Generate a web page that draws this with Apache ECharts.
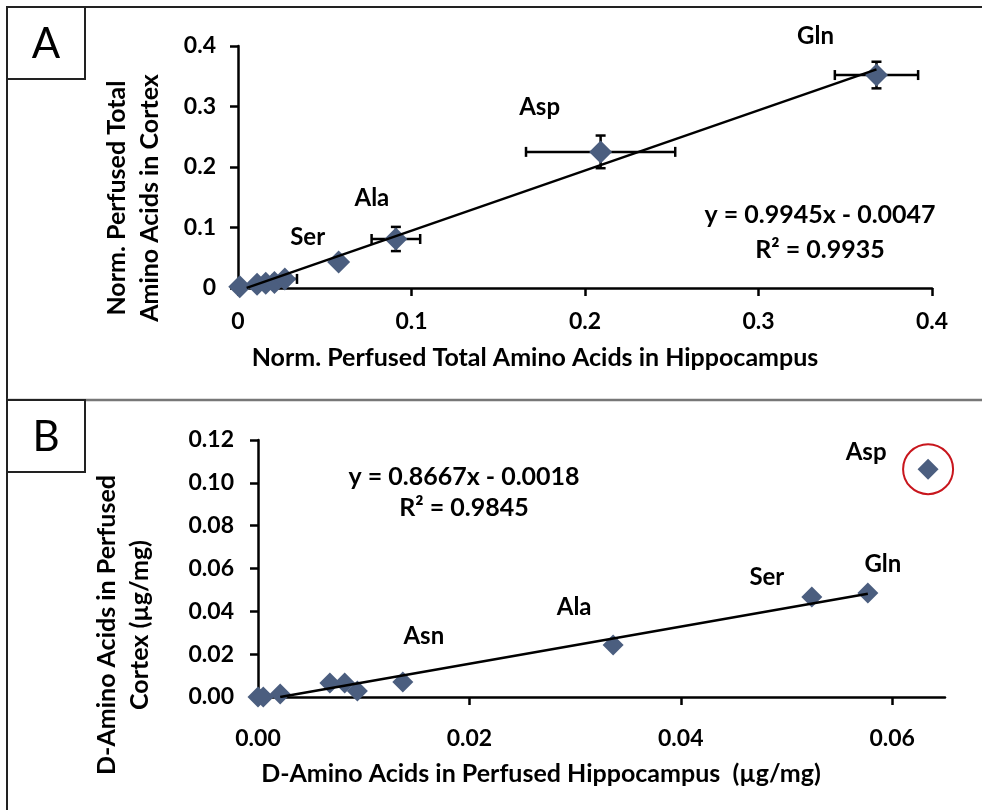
<!DOCTYPE html>
<html>
<head>
<meta charset="utf-8">
<script src="https://cdn.jsdelivr.net/npm/echarts@6/dist/echarts.min.js"></script>
<style>
html, body { margin: 0; padding: 0; background: #fff; }
#chart { width: 982px; height: 810px; }
</style>
</head>
<body>
<div id="chart"></div>
<script>
// panel A: normalised total amino acids, hippocampus vs cortex
var aNames = ['', '', '', '', '', 'Ser', 'Ala', 'Asp', 'Gln'];
var aX = [0.001, 0.011, 0.016, 0.021, 0.027, 0.058, 0.091, 0.209, 0.368];
var aY = [0.002, 0.006, 0.008, 0.009, 0.015, 0.043, 0.081, 0.225, 0.352];
var aXErr = [0, 0, 0, 0, 0.007, 0.002, 0.014, 0.043, 0.024];
var aYErr = [0, 0, 0, 0, 0.003, 0.004, 0.020, 0.027, 0.022];
var aTrendX = [0.005, 0.368];
var aSlope = 0.9945, aIntercept = -0.0047, aR2 = '0.9935';

// panel B: D-amino acids (µg/mg)
var bNames = ['', '', '', '', '', '', 'Asn', 'Ala', 'Ser', 'Gln', 'Asp'];
var bX = [0.0000, 0.0005, 0.0021, 0.0068, 0.0082, 0.0094, 0.0137, 0.0336, 0.0524, 0.0577, 0.0634];
var bY = [0.0000, 0.0000, 0.0014, 0.0065, 0.0065, 0.0028, 0.0070, 0.0243, 0.0467, 0.0486, 0.1064];
var bTrendX = [0.0021, 0.0577];
var bSlope = 0.8667, bIntercept = -0.0018, bR2 = '0.9845';
var bXTicks = [0, 0.02, 0.04, 0.06];
var bOutlier = 'Asp';

// label offsets from the marker (px)
var aLabelOffset = { Ser: [-31, -25], Ala: [-24, -41], Asp: [-61, -45], Gln: [-61, -39] };
var bLabelOffset = { Asn: [21, -46], Ala: [-39, -38], Ser: [-45, -20], Gln: [15, -29], Asp: [-62, -17] };

var FONT = 'Lato';
var markerColor = '#4b5e7f';

function fmtEq(s, b) {
    return 'y = ' + s.toFixed(4) + 'x ' + (b < 0 ? '- ' : '+ ') + Math.abs(b).toFixed(4);
}

function points(xs, ys, names, offsets) {
    return xs.map(function (x, i) {
        var n = names[i];
        return {
            value: [x, ys[i]],
            name: n,
            label: n ? { show: true, position: 'inside', offset: offsets[n], formatter: n } : { show: false }
        };
    });
}

function trend(xs, s, b) {
    return xs.map(function (x) { return [x, s * x + b]; });
}

function errorItem(params, api) {
    var x = api.value(0), y = api.value(1), ex = api.value(2), ey = api.value(3);
    var cap = 5;
    var style = { stroke: '#000', lineWidth: 2.5 };
    var kids = [];
    if (ex > 0) {
        var l = api.coord([x - ex, y]), r = api.coord([x + ex, y]);
        kids.push({ type: 'line', shape: { x1: l[0], y1: l[1], x2: r[0], y2: r[1] }, style: style });
        kids.push({ type: 'line', shape: { x1: l[0], y1: l[1] - cap, x2: l[0], y2: l[1] + cap }, style: style });
        kids.push({ type: 'line', shape: { x1: r[0], y1: r[1] - cap, x2: r[0], y2: r[1] + cap }, style: style });
    }
    if (ey > 0) {
        var t = api.coord([x, y + ey]), d = api.coord([x, y - ey]);
        kids.push({ type: 'line', shape: { x1: t[0], y1: t[1], x2: d[0], y2: d[1] }, style: style });
        kids.push({ type: 'line', shape: { x1: t[0] - cap, y1: t[1], x2: t[0] + cap, y2: t[1] }, style: style });
        kids.push({ type: 'line', shape: { x1: d[0] - cap, y1: d[1], x2: d[0] + cap, y2: d[1] }, style: style });
    }
    return { type: 'group', children: kids };
}

var axisLine = { lineStyle: { color: '#000', width: 2.5 } };
var axisTick = { show: true, length: 8, lineStyle: { color: '#000', width: 2.5 } };
var tickFont = { color: '#000', fontSize: 23, fontWeight: 'bold', fontFamily: FONT };
var labelFont = { color: '#000', fontSize: 24, fontWeight: 'bold', fontFamily: FONT };
var titleFont = 'bold 25px ' + FONT;
var bOutIdx = bNames.indexOf(bOutlier);

var myChart = echarts.init(document.getElementById('chart'));
var option = {
    animation: false,
    backgroundColor: '#fff',
    textStyle: { fontFamily: FONT },
    grid: [
        { left: 238, top: 46, width: 694, height: 242 },
        { left: 258, top: 440, width: 687, height: 257 }
    ],
    xAxis: [
        {
            gridIndex: 0, type: 'value', min: 0, max: 0.4, interval: 0.1,
            axisLine: axisLine, axisTick: axisTick, splitLine: { show: false },
            axisLabel: Object.assign({ margin: 22 }, tickFont)
        },
        {
            gridIndex: 1, type: 'value', min: 0, max: 0.065, interval: 0.02,
            axisLine: axisLine, splitLine: { show: false },
            axisTick: Object.assign({ customValues: bXTicks }, axisTick),
            axisLabel: Object.assign({
                margin: 30, customValues: bXTicks,
                formatter: function (v) { return v.toFixed(2); }
            }, tickFont)
        }
    ],
    yAxis: [
        {
            gridIndex: 0, type: 'value', min: 0, max: 0.4, interval: 0.1,
            axisLine: axisLine, axisTick: axisTick, splitLine: { show: false },
            axisLabel: Object.assign({ margin: 22 }, tickFont)
        },
        {
            gridIndex: 1, type: 'value', min: 0, max: 0.12, interval: 0.02,
            axisLine: axisLine, axisTick: axisTick, splitLine: { show: false },
            axisLabel: Object.assign({
                margin: 24,
                formatter: function (v) { return v.toFixed(2); }
            }, tickFont)
        }
    ],
    series: [
        {
            type: 'custom', xAxisIndex: 0, yAxisIndex: 0, z: 1,
            renderItem: errorItem,
            data: aX.map(function (x, i) { return [x, aY[i], aXErr[i], aYErr[i]]; })
        },
        {
            type: 'scatter', xAxisIndex: 0, yAxisIndex: 0, z: 3,
            symbol: 'diamond', symbolSize: 23,
            itemStyle: { color: markerColor, opacity: 1 },
            label: labelFont,
            data: points(aX, aY, aNames, aLabelOffset)
        },
        {
            type: 'line', xAxisIndex: 0, yAxisIndex: 0, z: 4,
            symbol: 'none', lineStyle: { color: '#000', width: 2.5 },
            data: trend(aTrendX, aSlope, aIntercept)
        },
        {
            type: 'scatter', xAxisIndex: 1, yAxisIndex: 1, z: 3,
            symbol: 'diamond', symbolSize: 21,
            itemStyle: { color: markerColor, opacity: 1 },
            label: labelFont,
            data: points(bX, bY, bNames, bLabelOffset),
            markPoint: {
                symbol: 'circle', symbolSize: 50,
                itemStyle: { color: 'rgba(0,0,0,0)', borderColor: '#c8161d', borderWidth: 2 },
                label: { show: false },
                data: [{ coord: [bX[bOutIdx], bY[bOutIdx]] }]
            }
        },
        {
            type: 'line', xAxisIndex: 1, yAxisIndex: 1, z: 4,
            symbol: 'none', lineStyle: { color: '#000', width: 2.5 },
            data: trend(bTrendX, bSlope, bIntercept)
        }
    ],
    graphic: [
        { type: 'rect', shape: { x: 7, y: 7, width: 1000, height: 1000 }, style: { fill: null, stroke: '#222', lineWidth: 2 } },
        { type: 'line', shape: { x1: 7, y1: 400, x2: 982, y2: 400 }, style: { stroke: '#777', lineWidth: 2.5 } },
        { type: 'rect', shape: { x: 7, y: 7, width: 78, height: 72 }, style: { fill: '#fff', stroke: '#222', lineWidth: 2 } },
        { type: 'rect', shape: { x: 7, y: 400, width: 78, height: 72 }, style: { fill: '#fff', stroke: '#222', lineWidth: 2 } },
        { type: 'text', x: 46, y: 44, style: { text: 'A', font: '42px ' + FONT, fill: '#000', align: 'center', verticalAlign: 'middle' } },
        { type: 'text', x: 46, y: 437, style: { text: 'B', font: '42px ' + FONT, fill: '#000', align: 'center', verticalAlign: 'middle' } },
        // axis titles
        { type: 'text', x: 535, y: 358, style: { text: 'Norm. Perfused Total Amino Acids in Hippocampus', font: titleFont, fill: '#000', align: 'center', verticalAlign: 'middle' } },
        { type: 'text', x: 133, y: 198, rotation: Math.PI / 2, style: { text: 'Norm. Perfused Total\nAmino Acids in Cortex', font: titleFont, lineHeight: 33, fill: '#000', align: 'center', verticalAlign: 'middle' } },
        { type: 'text', x: 541, y: 774, style: { text: 'D-Amino Acids in Perfused Hippocampus  (µg/mg)', font: titleFont, fill: '#000', align: 'center', verticalAlign: 'middle' } },
        { type: 'text', x: 123, y: 625, rotation: Math.PI / 2, style: { text: 'D-Amino Acids in Perfused\nCortex (µg/mg)', font: titleFont, lineHeight: 33, fill: '#000', align: 'center', verticalAlign: 'middle' } },
        // regression equations
        { type: 'text', x: 820, y: 215, style: { text: fmtEq(aSlope, aIntercept), font: titleFont, fill: '#000', align: 'center', verticalAlign: 'middle' } },
        { type: 'text', x: 820, y: 250, style: { text: 'R² = ' + aR2, font: titleFont, fill: '#000', align: 'center', verticalAlign: 'middle' } },
        { type: 'text', x: 464, y: 477, style: { text: fmtEq(bSlope, bIntercept), font: titleFont, fill: '#000', align: 'center', verticalAlign: 'middle' } },
        { type: 'text', x: 464, y: 508, style: { text: 'R² = ' + bR2, font: titleFont, fill: '#000', align: 'center', verticalAlign: 'middle' } }
    ]
};
myChart.setOption(option);
</script>
</body>
</html>
